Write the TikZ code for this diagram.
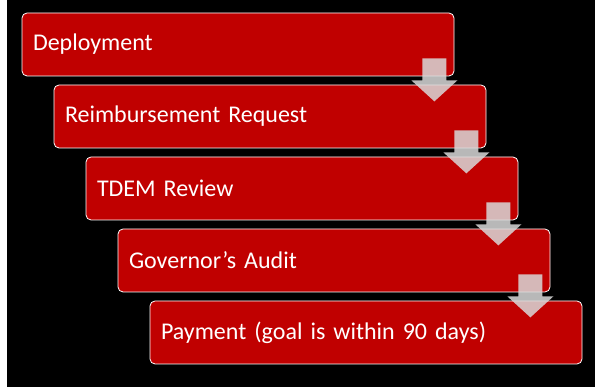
\documentclass[tikz,border=0pt]{standalone}
\usepackage{fontspec}
\setmainfont{Carlito}
\usetikzlibrary{calc}
\definecolor{stepred}{HTML}{C00000}
\definecolor{arrowgray}{HTML}{D9D9D9}
\begin{document}
\begin{tikzpicture}[x=1pt,y=1pt,
  stage/.style={draw=white,line width=0.8pt,fill=stepred,rounded corners=5pt,
    text=white,font=\fontsize{24}{28}\selectfont,text width=410pt,inner xsep=11pt,
    align=left,minimum height=63pt},
  downarrow/.style={fill=arrowgray,fill opacity=0.85}]
\useasboundingbox (0,0) rectangle (595,387);
\fill[white] (0,0) rectangle (7,387);
\fill[black] (7,0) rectangle (595,387);

\node[stage] (deploy) at (238,342.5) {Deployment};
\node[stage] (request) at (270,270.5) {Reimbursement Request};
\node[stage] (review) at (302,198.5) {TDEM Review};
\node[stage] (audit) at (334,126.5) {Governor’s Audit};
\node[stage] (payment) at (366,54.5) {Payment (goal is within 90 days)};

\foreach \n in {deploy,request,review,audit}
  \fill[downarrow] ($(\n.south east)+(-32,18)$) -- ($(\n.south east)+(-8,18)$)
    -- ($(\n.south east)+(-8,-4)$) -- ($(\n.south east)+(3,-4)$)
    -- ($(\n.south east)+(-20,-25)$) -- ($(\n.south east)+(-43,-4)$)
    -- ($(\n.south east)+(-32,-4)$) -- cycle;
\end{tikzpicture}
\end{document}
